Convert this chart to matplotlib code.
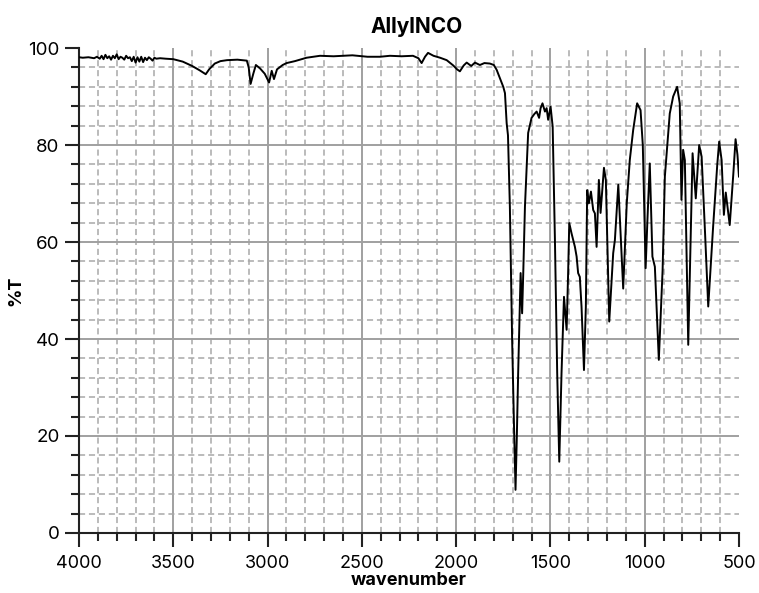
import matplotlib.pyplot as plt
from matplotlib.ticker import MultipleLocator

# IR spectrum of allyl isocyanate
wavenumber = [4000, 3980, 3950, 3920, 3905, 3890, 3880, 3870, 3860, 3850, 3840, 3830,
              3820, 3810, 3800, 3790, 3780, 3770, 3760, 3750, 3740, 3730, 3720, 3710,
              3700, 3690, 3680, 3670, 3660, 3650, 3640, 3630, 3620, 3610, 3600, 3590,
              3570, 3540, 3500, 3450, 3400, 3360, 3340, 3328, 3310, 3280, 3250, 3215,
              3160, 3110, 3100, 3090, 3075, 3062, 3040, 3015, 2992, 2978, 2966, 2950,
              2920, 2899, 2855, 2793, 2722, 2650, 2550, 2470, 2404, 2351, 2290, 2229,
              2200, 2183, 2165, 2149, 2120, 2085, 2050, 2015, 1995, 1980, 1960, 1944,
              1920, 1900, 1874, 1850, 1821, 1800, 1785, 1768, 1750, 1741, 1732, 1725,
              1715, 1703, 1693, 1685, 1678, 1671, 1658, 1650, 1644, 1635, 1618, 1600,
              1585, 1573, 1560, 1552, 1542, 1529, 1520, 1512, 1499, 1488, 1476, 1464,
              1453, 1441, 1428, 1421, 1414, 1406, 1400, 1388, 1370, 1361, 1353, 1344,
              1335, 1322, 1312, 1305, 1296, 1285, 1273, 1264, 1255, 1243, 1234, 1216,
              1206, 1188, 1167, 1158, 1140, 1114, 1095, 1079, 1061, 1040, 1022, 1010,
              995, 985, 973, 959, 946, 925, 905, 893, 867, 849, 828, 814, 805, 796,
              787, 769, 746, 729, 711, 698, 680, 663, 650, 637, 615, 605, 592, 580,
              570, 549, 530, 518, 508, 500]
transmittance = [98.1, 98.0, 98.1, 97.9, 98.2, 97.8, 98.4, 97.7, 98.6, 97.9, 98.3, 97.6,
                 98.4, 97.9, 98.7, 97.7, 98.2, 98.0, 97.6, 98.4, 97.9, 98.1, 97.3, 98.2,
                 97.0, 98.1, 97.2, 98.2, 97.1, 98.0, 97.5, 98.1, 97.8, 97.4, 98.0, 97.8,
                 97.9, 97.8, 97.7, 97.2, 96.3, 95.4, 94.9, 94.6, 95.6, 96.8, 97.3, 97.5,
                 97.6, 97.4, 96.0, 92.6, 94.8, 96.5, 95.8, 94.7, 92.9, 95.3, 93.6, 95.6,
                 96.5, 96.9, 97.3, 98.0, 98.4, 98.3, 98.5, 98.2, 98.2, 98.4, 98.3, 98.4,
                 97.9, 96.9, 98.2, 99.0, 98.4, 98.0, 97.5, 96.4, 95.6, 95.2, 96.4, 97.0,
                 96.3, 97.0, 96.5, 96.9, 96.8, 96.5, 95.5, 93.8, 92.0, 90.7, 84.5, 82.0,
                 67.3, 39.8, 22.0, 8.9, 20.0, 33.0, 53.6, 45.3, 53.6, 67.3, 82.5, 85.6,
                 86.4, 86.9, 85.6, 87.6, 88.6, 86.9, 87.6, 85.2, 87.9, 83.8, 60.4, 33.0,
                 14.7, 33.0, 48.7, 45.3, 41.9, 53.6, 63.9, 61.8, 59.0, 57.0, 53.6, 52.8,
                 46.7, 33.6, 46.7, 70.7, 68.0, 70.4, 66.6, 65.9, 59.0, 72.8, 66.0, 75.3,
                 72.8, 43.6, 57.7, 60.4, 71.8, 50.4, 68.0, 76.9, 83.1, 88.6, 87.2, 80.0,
                 54.6, 65.0, 76.2, 57.0, 54.9, 35.7, 54.2, 73.5, 86.5, 90.0, 92.0, 88.6,
                 68.7, 79.0, 76.9, 38.8, 78.3, 69.0, 80.0, 77.6, 62.0, 46.7, 55.0, 63.2,
                 76.0, 80.7, 76.9, 65.6, 70.2, 63.5, 74.0, 81.2, 78.0, 73.5]

plt.rcParams['font.family'] = ['Inter', 'DejaVu Sans']

fig = plt.figure(figsize=(7.59, 5.93), dpi=100)
ax = fig.add_axes([0.1041, 0.1012, 0.8695, 0.8178])

ax.plot(wavenumber, transmittance, color='black', linewidth=1.4, zorder=3)

ax.set_xlim(4000, 500)
ax.set_ylim(0, 100)

ax.xaxis.set_major_locator(MultipleLocator(500))
ax.xaxis.set_minor_locator(MultipleLocator(100))
ax.yaxis.set_major_locator(MultipleLocator(20))
ax.yaxis.set_minor_locator(MultipleLocator(4))

ax.grid(which='major', color='#a0a0a0', linewidth=1.4, linestyle='-')
ax.grid(which='minor', color='#a8a8a8', linewidth=1.1, linestyle=(0, (4, 2.5)))
ax.set_axisbelow(True)

# the reference has no grid line along the top (100) or right (500) edge
fig.canvas.draw()
for tick in ax.yaxis.get_major_ticks():
    if abs(tick.get_loc() - 100) < 1e-6:
        tick.gridline.set_visible(False)
for tick in ax.xaxis.get_major_ticks():
    if abs(tick.get_loc() - 500) < 1e-6:
        tick.gridline.set_visible(False)

for side in ['top', 'right']:
    ax.spines[side].set_visible(False)
for side in ['left', 'bottom']:
    ax.spines[side].set_linewidth(1.5)
    ax.spines[side].set_color('#222222')

ax.tick_params(which='major', length=10, width=1.5, color='#222222', labelsize=13, pad=4)
ax.tick_params(which='minor', length=6, width=1.5, color='#222222')
ax.tick_params(axis='x', which='major', pad=6)
ax.tick_params(axis='y', which='major', labelsize=13.5)

ax.set_title('AllylNCO', fontsize=15, fontweight='bold', pad=11, x=0.512)
ax.set_xlabel('wavenumber', fontsize=13, fontweight='bold', labelpad=0)
ax.set_ylabel('%T', fontsize=13, fontweight='bold', labelpad=3)

fig.savefig('out.png', dpi=100)
